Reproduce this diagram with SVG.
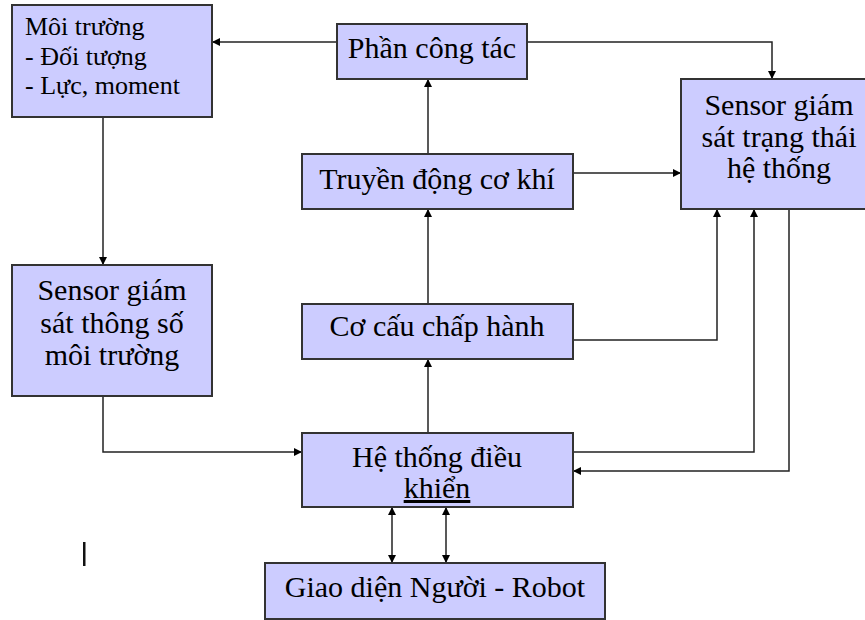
<svg xmlns="http://www.w3.org/2000/svg" width="865" height="620" viewBox="0 0 865 620">
<defs>
<marker id="ah" viewBox="0 0 10 10" refX="10" refY="5" markerWidth="9" markerHeight="8" markerUnits="userSpaceOnUse" orient="auto-start-reverse">
<path d="M0,0 L10,5 L0,10 z" fill="#000"/>
</marker>
<style>
.box{fill:#ccccff;stroke:#333;stroke-width:2}
.t{font-family:"Liberation Serif","Times New Roman",serif;font-size:30px;fill:#000;text-anchor:middle}
.tl{font-family:"Liberation Serif","Times New Roman",serif;font-size:26px;fill:#000}
.c{fill:none;stroke:#222;stroke-width:1.5}
.a{marker-end:url(#ah)}
.b{marker-start:url(#ah);marker-end:url(#ah)}
</style>
</defs>
<rect width="865" height="620" fill="#fff"/>
<g id="connectors">
<path class="c a" d="M337,42 H212"/>
<path class="c a" d="M527,42 H772 V79"/>
<path class="c a" d="M103,117 V265"/>
<path class="c a" d="M103,396 V452 H302"/>
<path class="c a" d="M428,433 V359"/>
<path class="c a" d="M428,304 V209"/>
<path class="c a" d="M428,153 V79"/>
<path class="c a" d="M573,173 H681"/>
<path class="c a" d="M573,340 H717 V209"/>
<path class="c a" d="M573,452 H754 V209"/>
<path class="c a" d="M789,209 V471 H573"/>
<path class="c b" d="M392,507 V563"/>
<path class="c b" d="M446,507 V563"/>
</g>
<g id="moi-truong">
<rect class="box" x="12" y="5" width="200" height="112"/>
<text class="tl" x="25" y="35">Môi trường</text>
<text class="tl" x="25" y="65">- Đối tượng</text>
<text class="tl" x="25" y="94">- Lực, moment</text>
</g>
<g id="phan-cong-tac">
<rect class="box" x="337" y="24" width="190" height="55"/>
<text class="t" x="432" y="58">Phần công tác</text>
</g>
<g id="sensor-trang-thai">
<rect class="box" x="681" y="79" width="196" height="130"/>
<text class="t" x="779" y="115">Sensor giám</text>
<text class="t" x="779" y="147">sát trạng thái</text>
<text class="t" x="779" y="178">hệ thống</text>
</g>
<g id="truyen-dong">
<rect class="box" x="302" y="154" width="271" height="55"/>
<text class="t" x="437" y="189">Truyền động cơ khí</text>
</g>
<g id="sensor-moi-truong">
<rect class="box" x="12" y="265" width="200" height="131"/>
<text class="t" x="112" y="300">Sensor giám</text>
<text class="t" x="112" y="333">sát thông số</text>
<text class="t" x="112" y="365">môi trường</text>
</g>
<g id="co-cau">
<rect class="box" x="302" y="304" width="271" height="55"/>
<text class="t" x="437" y="336">Cơ cấu chấp hành</text>
</g>
<g id="he-thong">
<rect class="box" x="302" y="433" width="271" height="74"/>
<text class="t" x="437" y="467">Hệ thống điều</text>
<text class="t" x="437" y="498" text-decoration="underline">khiển</text>
</g>
<g id="giao-dien">
<rect class="box" x="265" y="563" width="340" height="56"/>
<text class="t" x="435" y="597">Giao diện Người - Robot</text>
</g>
<rect x="83" y="542" width="2.5" height="24" fill="#111"/>
</svg>
